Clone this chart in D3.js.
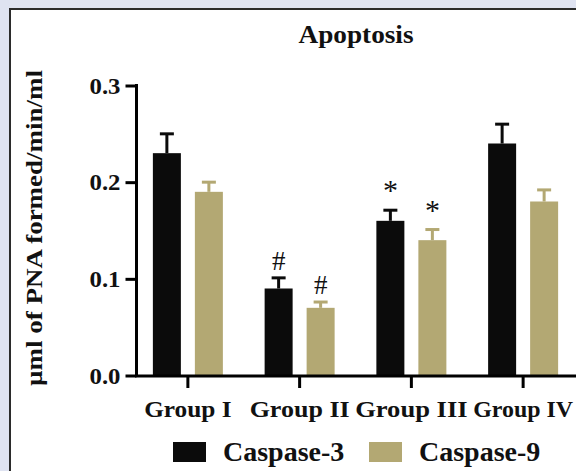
<!DOCTYPE html>
<html>
<head>
<meta charset="utf-8">
<script src="https://cdn.jsdelivr.net/npm/d3@7"></script>
<style>
  html, body { margin: 0; padding: 0; background: #dfe3f1; }
  svg { display: block; }
  text { font-family: "Liberation Serif", "Times New Roman", serif; fill: #111; }
</style>
</head>
<body>
<div id="chart"></div>
<script>
// values
const groups = ['Group I', 'Group II', 'Group III', 'Group IV'];
const series = ['Caspase-3', 'Caspase-9'];
const colors = ['#0b0b0b', '#b3a873'];
const caspase3 = [0.23, 0.09, 0.16, 0.24];
const caspase3Err = [0.02, 0.011, 0.011, 0.02];
const caspase9 = [0.19, 0.07, 0.14, 0.18];
const caspase9Err = [0.01, 0.006, 0.011, 0.012];
const caspase3Marks = ['', '#', '*', ''];
const caspase9Marks = ['', '#', '*', ''];
const yTicks = [0, 0.1, 0.2, 0.3];

const width = 576, height = 471;

const data = [];
groups.forEach((g, i) => {
  data.push({ group: g, series: series[0], value: caspase3[i], err: caspase3Err[i], mark: caspase3Marks[i] });
  data.push({ group: g, series: series[1], value: caspase9[i], err: caspase9Err[i], mark: caspase9Marks[i] });
});

const svg = d3.select('#chart').append('svg')
  .attr('width', width)
  .attr('height', height);

// white panel with a dark frame
svg.append('rect')
  .attr('x', 10).attr('y', 9)
  .attr('width', width + 20).attr('height', height + 20)
  .attr('fill', '#fff')
  .attr('stroke', '#2b2b2b')
  .attr('stroke-width', 2);

const x0 = d3.scaleBand().domain(groups).range([132, 579]).paddingInner(0).paddingOuter(0);
const x1 = d3.scaleBand().domain(series).range([-35, 35]).paddingInner(1 / 3).paddingOuter(0);
const y = d3.scaleLinear().domain([0, 0.3]).range([375.5, 85.5]);
const color = d3.scaleOrdinal().domain(series).range(colors);

const center = (d) => x0(d.group) + x0.bandwidth() / 2;

// title
svg.append('text')
  .attr('x', 356).attr('y', 43)
  .attr('text-anchor', 'middle')
  .attr('font-size', 25).attr('font-weight', 'bold')
  .attr('textLength', 115).attr('lengthAdjust', 'spacingAndGlyphs')
  .text('Apoptosis');

// y axis title
svg.append('text')
  .attr('transform', 'translate(42,228) rotate(-90)')
  .attr('text-anchor', 'middle')
  .attr('font-size', 24).attr('font-weight', 'bold')
  .attr('textLength', 316).attr('lengthAdjust', 'spacingAndGlyphs')
  .text('µml of PNA formed/min/ml');

// bars
svg.append('g').selectAll('rect')
  .data(data)
  .join('rect')
  .attr('x', (d) => center(d) + x1(d.series))
  .attr('y', (d) => y(d.value))
  .attr('width', x1.bandwidth())
  .attr('height', (d) => y(0) - y(d.value))
  .attr('fill', (d) => color(d.series));

// error bars (upper half only)
const eb = svg.append('g').selectAll('g')
  .data(data)
  .join('g')
  .attr('stroke', (d) => color(d.series))
  .attr('stroke-width', 3);
eb.append('line')
  .attr('x1', (d) => center(d) + x1(d.series) + x1.bandwidth() / 2)
  .attr('x2', (d) => center(d) + x1(d.series) + x1.bandwidth() / 2)
  .attr('y1', (d) => y(d.value))
  .attr('y2', (d) => y(d.value + d.err));
eb.append('line')
  .attr('x1', (d) => center(d) + x1(d.series) + x1.bandwidth() / 2 - 7)
  .attr('x2', (d) => center(d) + x1(d.series) + x1.bandwidth() / 2 + 7)
  .attr('y1', (d) => y(d.value + d.err))
  .attr('y2', (d) => y(d.value + d.err));

// significance marks
svg.append('g').selectAll('text')
  .data(data.filter((d) => d.mark))
  .join('text')
  .attr('x', (d) => center(d) + x1(d.series) + x1.bandwidth() / 2)
  .attr('y', (d) => y(d.value + d.err) - (d.mark === '*' ? 10 : 8))
  .attr('text-anchor', 'middle')
  .attr('font-size', (d) => d.mark === '*' ? 30 : 27)
  .attr('fill', '#222')
  .text((d) => d.mark);

// y axis
const yAxis = svg.append('g')
  .attr('transform', 'translate(136.5,0)')
  .call(d3.axisLeft(y).tickValues(yTicks).tickFormat(d3.format('.1f')).tickSize(11).tickSizeOuter(0).tickPadding(5));

// x axis
const xAxis = svg.append('g')
  .attr('transform', 'translate(0,376)')
  .call(d3.axisBottom(x0).tickSize(12).tickSizeOuter(0).tickPadding(12));

[yAxis, xAxis].forEach((ax) => {
  ax.selectAll('path, line').attr('stroke', '#000').attr('stroke-width', 3);
});
xAxis.select('.domain').attr('d', 'M135,0H576');
yAxis.select('.domain').attr('d', 'M0,84V377');

yAxis.selectAll('text')
  .attr('font-size', 23).attr('font-weight', 'bold')
  .attr('font-family', '"Liberation Serif", serif').attr('fill', '#111')
  .attr('textLength', 31).attr('lengthAdjust', 'spacingAndGlyphs')
  .attr('dy', '0.34em');

xAxis.selectAll('text')
  .attr('font-size', 24).attr('font-weight', 'bold')
  .attr('font-family', '"Liberation Serif", serif').attr('fill', '#111')
  .attr('textLength', (d) => d.length * 12.5)
  .attr('lengthAdjust', 'spacingAndGlyphs');

// legend
const legend = svg.append('g').selectAll('g')
  .data(series)
  .join('g')
  .attr('transform', (d, i) => `translate(${173 + i * 196},442)`);
legend.append('rect')
  .attr('width', 33).attr('height', 20)
  .attr('fill', (d) => color(d));
legend.append('text')
  .attr('x', 50).attr('y', 19)
  .attr('font-size', 28).attr('font-weight', 'bold')
  .text((d) => d);
</script>
</body>
</html>
